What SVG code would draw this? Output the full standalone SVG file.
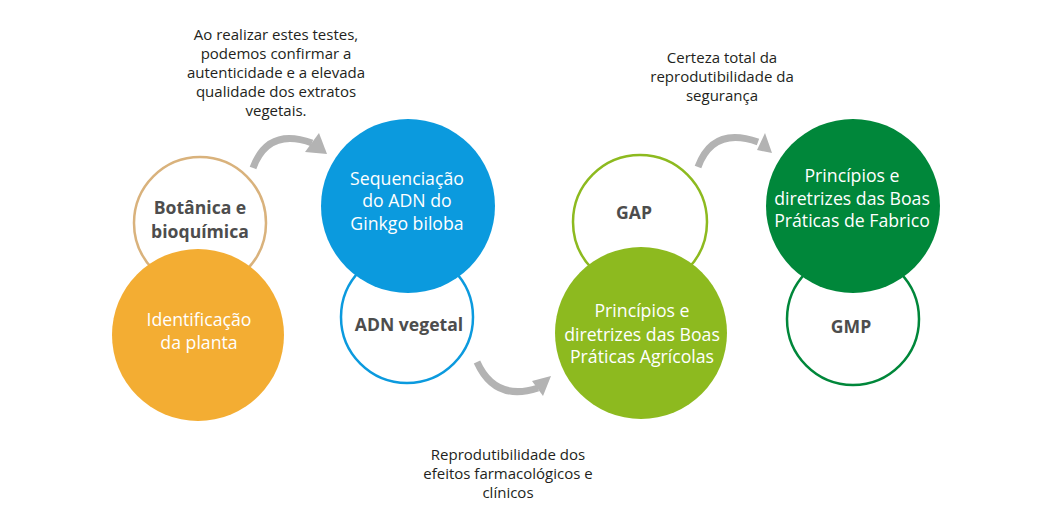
<svg xmlns="http://www.w3.org/2000/svg" width="1060" height="519" viewBox="0 0 1060 519">
<style>
  text { font-family: "Open Sans", "Noto Sans", "Liberation Sans", sans-serif; text-anchor: middle; }
  .note { font-size: 15px; fill: #231f20; }
  .white { font-size: 17.7px; fill: #ffffff; }
  .bold { font-size: 17.6px; font-weight: bold; fill: #4d4d4d; }
  .ring { fill: #ffffff; stroke-width: 2.5; }
  .arc { fill: none; stroke: #b3b3b3; stroke-width: 7; }
  .head { fill: #b3b3b3; }
</style>
<rect width="1060" height="519" fill="#ffffff"/>

<g id="note-top-left">
  <text class="note" x="276" y="40">Ao realizar estes testes,</text>
  <text class="note" x="276" y="59">podemos confirmar a</text>
  <text class="note" x="276" y="78">autenticidade e a elevada</text>
  <text class="note" x="276" y="97">qualidade dos extratos</text>
  <text class="note" x="276" y="116">vegetais.</text>
</g>
<g id="note-top-right">
  <text class="note" x="722" y="63">Certeza total da</text>
  <text class="note" x="722" y="82">reprodutibilidade da</text>
  <text class="note" x="722" y="101">segurança</text>
</g>
<g id="note-bottom">
  <text class="note" x="508" y="460">Reprodutibilidade dos</text>
  <text class="note" x="508" y="479">efeitos farmacológicos e</text>
  <text class="note" x="508" y="498">clínicos</text>
</g>

<g id="botanica">
  <circle class="ring" cx="200" cy="223" r="66" stroke="#d9b27c"/>
  <text class="bold" x="200" y="214">Botânica e</text>
  <text class="bold" x="200" y="238">bioquímica</text>
</g>
<g id="identificacao">
  <circle cx="198" cy="335" r="86" fill="#f3ad33"/>
  <text class="white" x="199" y="326">Identificação</text>
  <text class="white" x="199" y="349">da planta</text>
</g>

<g id="adn-vegetal">
  <circle class="ring" cx="407" cy="317" r="66" stroke="#0b9ade"/>
  <text class="bold" x="409" y="331">ADN vegetal</text>
</g>
<g id="sequenciacao">
  <circle cx="408" cy="206" r="87" fill="#0b9ade"/>
  <text class="white" x="407" y="185">Sequenciação</text>
  <text class="white" x="407" y="207">do ADN do</text>
  <text class="white" x="407" y="230">Ginkgo biloba</text>
</g>

<g id="gap">
  <circle class="ring" cx="640" cy="222" r="67" stroke="#8dba1f"/>
  <text class="bold" x="634" y="219">GAP</text>
</g>
<g id="agricolas">
  <circle cx="641" cy="333" r="86" fill="#8dba1f"/>
  <text class="white" x="642" y="317">Princípios e</text>
  <text class="white" x="642" y="341">diretrizes das Boas</text>
  <text class="white" x="642" y="363">Práticas Agrícolas</text>
</g>

<g id="gmp">
  <circle class="ring" cx="853" cy="319" r="66" stroke="#00873a"/>
  <text class="bold" x="851" y="333">GMP</text>
</g>
<g id="fabrico">
  <circle cx="853" cy="206" r="87" fill="#00873a"/>
  <text class="white" x="852" y="182">Princípios e</text>
  <text class="white" x="852" y="205">diretrizes das Boas</text>
  <text class="white" x="852" y="227">Práticas de Fabrico</text>
</g>

<g id="connectors">
  <path class="arc" d="M 253 168 Q 268 127 312 143"/>
  <polygon class="head" points="319,133 327,154 305,152"/>
  <path class="arc" d="M 477 362 Q 495 402 538 388"/>
  <polygon class="head" points="551,376 532,381 543,396"/>
  <path class="arc" d="M 698 167 Q 713 126 758 142"/>
  <polygon class="head" points="765,133 772,153 757,150"/>
</g>
</svg>
